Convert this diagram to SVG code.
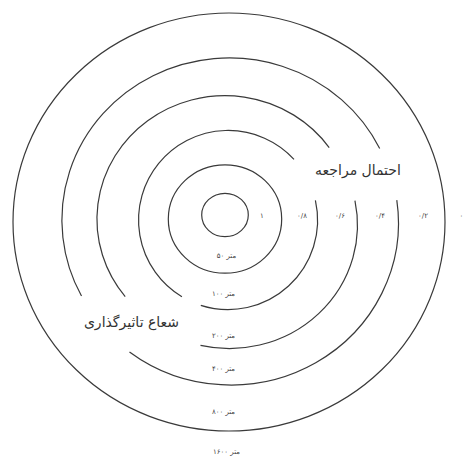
<svg xmlns="http://www.w3.org/2000/svg" width="464" height="459" viewBox="0 0 464 459">
<style>
.ring{fill:none;stroke:#3a3a3a;stroke-width:1.2}
.lbl{font-family:"DejaVu Sans",sans-serif;fill:#333;text-anchor:middle}
.sm{font-size:7px;fill:#444}
.big{font-size:14px}
</style>
<rect width="464" height="459" fill="#fff"/>
<g id="ring-50">
<ellipse class="ring" cx="225" cy="215" rx="23.3" ry="21.7"/>
</g>
<g id="ring-100">
<ellipse class="ring" cx="225" cy="219" rx="56.7" ry="54.2"/>
</g>
<g id="ring-200">
<path class="ring" d="M315.4,200.3 A89.6,89.6 0 0 1 200.8,305.4"/>
<path class="ring" d="M181.9,296.8 A89.6,89.6 0 1 1 294,159.3"/>
</g>
<g id="ring-400">
<path class="ring" d="M354.95,200.58 A128,123.5 0 0 1 200.5,345.3"/>
<path class="ring" d="M125.2,296.6 A128,123.5 0 1 1 329.2,147.55"/>
</g>
<g id="ring-800">
<path class="ring" d="M396.8,200.2 A167.5,162 0 0 1 129.5,351.9"/>
<path class="ring" d="M81.5,296 A167.5,162 0 1 1 379.7,148.45"/>
</g>
<g id="ring-1600">
<ellipse class="ring" cx="229" cy="222" rx="216" ry="209"/>
</g>
<g id="labels">
<text class="lbl big" x="358" y="175">احتمال مراجعه</text>
<text class="lbl big" x="131.5" y="326.5">شعاع تاثیرگذاری</text>
<text class="lbl sm" x="262" y="217.5">۱</text>
<text class="lbl sm" x="302" y="217.5">۰/۸</text>
<text class="lbl sm" x="340" y="217.5">۰/۶</text>
<text class="lbl sm" x="380" y="217.5">۰/۴</text>
<text class="lbl sm" x="423" y="217.5">۰/۲</text>
<text class="lbl sm" x="461.5" y="217.5">۰</text>
<text class="lbl sm" x="226.5" y="257.5">۵۰ متر</text>
<text class="lbl sm" x="223.5" y="295.5">۱۰۰ متر</text>
<text class="lbl sm" x="223.5" y="337.5">۲۰۰ متر</text>
<text class="lbl sm" x="223.5" y="370.5">۴۰۰ متر</text>
<text class="lbl sm" x="223.5" y="414">۸۰۰ متر</text>
<text class="lbl sm" x="226.5" y="454">۱۶۰۰ متر</text>
</g>
</svg>
